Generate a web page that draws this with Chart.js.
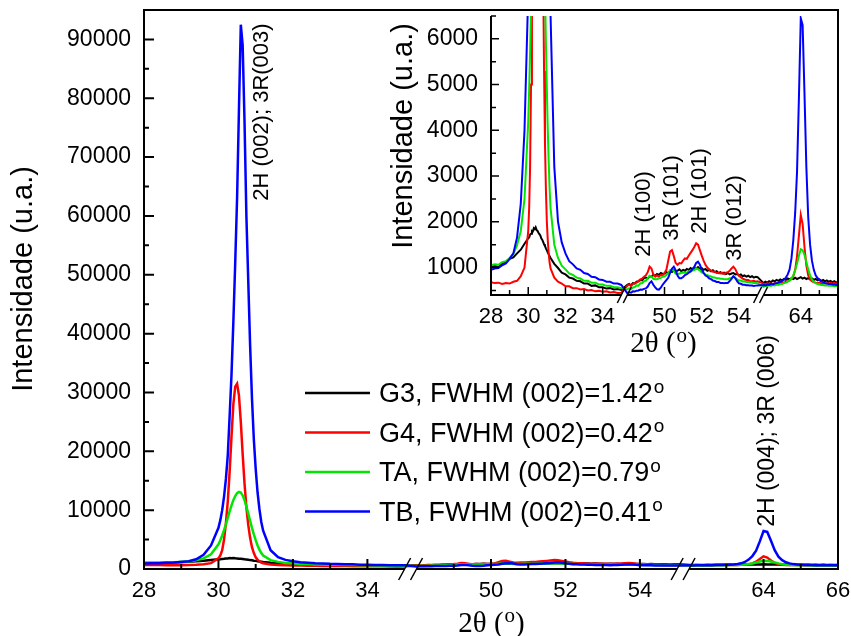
<!DOCTYPE html>
<html>
<head>
<meta charset="utf-8">
<title>DRX - G3, G4, TA, TB</title>
<script src="https://cdn.jsdelivr.net/npm/chart.js@4.4.0/dist/chart.umd.min.js"></script>
<style>
  html, body { margin: 0; padding: 0; background: #fff; }
  #wrap { position: relative; width: 851px; height: 636px; }
  #mainChart { position: absolute; left: 0; top: 0; }
  #insetChart { position: absolute; left: 380px; top: 0; }
</style>
</head>
<body>
<div id="wrap">
  <canvas id="mainChart" width="851" height="636"></canvas>
  <canvas id="insetChart" width="471" height="370"></canvas>
</div>
<script>
// windows of 2theta shown on the broken x axis
const segments = [[28, 35], [48, 55], [62, 66]];
const GAP = 0.32; // width of each axis break, in degrees

// sampled 2theta positions (deg)
const twoTheta = [
  28.0, 28.2, 28.4, 28.6, 28.8, 29.0, 29.2, 29.4, 29.6, 29.8,
  30.0, 30.05, 30.1, 30.15, 30.2, 30.25, 30.3, 30.35, 30.4, 30.45,
  30.5, 30.55, 30.6, 30.65, 30.7, 30.75, 30.8, 30.85, 30.9, 30.95,
  31.0, 31.05, 31.1, 31.15, 31.2,
  31.4, 31.6, 31.8, 32.0, 32.2, 32.4, 32.6, 32.8, 33.0, 33.2,
  33.4, 33.6, 33.8, 34.0, 34.2, 34.4, 34.6, 34.8, 35.0,
  48.0, 48.1, 48.2, 48.3, 48.4, 48.5, 48.6, 48.7, 48.8, 48.9,
  49.0, 49.1, 49.2, 49.3, 49.4, 49.5, 49.6, 49.7, 49.8, 49.9,
  50.0, 50.1, 50.2, 50.3, 50.4, 50.5, 50.6, 50.7, 50.8, 50.9,
  51.0, 51.1, 51.2, 51.3, 51.4, 51.5, 51.6, 51.7, 51.8, 51.9,
  52.0, 52.1, 52.2, 52.3, 52.4, 52.5, 52.6, 52.7, 52.8, 52.9,
  53.0, 53.1, 53.2, 53.3, 53.4, 53.5, 53.6, 53.7, 53.8, 53.9,
  54.0, 54.1, 54.2, 54.3, 54.4, 54.5, 54.6, 54.7, 54.8, 54.9,
  55.0,
  62.0, 62.1, 62.2, 62.3, 62.4, 62.5, 62.6, 62.7, 62.8, 62.9,
  63.0, 63.1, 63.2, 63.3, 63.4, 63.5, 63.6, 63.7, 63.8, 63.9,
  64.0, 64.1, 64.2, 64.3, 64.4, 64.5, 64.6, 64.7, 64.8, 64.9,
  65.0, 65.1, 65.2, 65.3, 65.4, 65.5, 65.6, 65.7, 65.8, 65.9,
  66.0
];

// intensities (u.a.), same order as twoTheta
const g3 = [
  1000, 1040, 1010, 1080, 1110, 1190, 1220, 1310, 1390, 1520,
  1640, 1660, 1720, 1740, 1800, 1790, 1860, 1840, 1880, 1820,
  1800, 1760, 1730, 1700, 1640, 1610, 1560, 1510, 1470, 1420,
  1380, 1330, 1290, 1250, 1210,
  1080, 990, 890, 850, 780, 760, 710, 700, 650, 650,
  600, 610, 570, 570, 540, 550, 520, 530, 510,
  620, 640, 610, 660, 650, 690, 700, 730, 720, 770,
  780, 760, 810, 800, 840, 820, 860, 840, 880, 860,
  870, 900, 880, 920, 900, 940, 910, 930, 960, 920,
  950, 930, 970, 950, 990, 960, 1000, 980, 1010, 970,
  990, 950, 970, 930, 950, 920, 940, 900, 920, 880,
  900, 870, 890, 860, 880, 850, 870, 880, 850, 860,
  830, 850, 810, 830, 800, 820, 790, 810, 780, 800,
  790,
  660, 690, 670, 700, 680, 720, 700, 730, 710, 740,
  720, 750, 730, 760, 740, 770, 750, 780, 750, 770,
  790, 760, 780, 750, 770, 740, 760, 730, 750, 720,
  740, 710, 730, 700, 720, 690, 710, 680, 700, 670,
  690
];
const g4 = [
  680, 660, 670, 640, 660, 650, 690, 710, 810, 1000,
  1800, 2300, 3200, 5000, 7800, 11500, 16500, 22500, 28000, 31000,
  31500, 29500, 25000, 19500, 14500, 10500, 7500, 5300, 3700, 2700,
  2000, 1600, 1300, 1100, 980,
  780, 690, 650, 590, 590, 550, 550, 520, 530, 500,
  510, 480, 490, 470, 480, 455, 465, 445, 450,
  600, 630, 600, 640, 660, 670, 700, 740, 760, 800,
  830, 900, 1020, 980, 850, 800, 830, 800, 840, 830,
  880, 950, 1150, 1350, 1380, 1250, 1100, 1060, 1100, 1090,
  1150, 1200, 1190, 1260, 1320, 1380, 1450, 1530, 1500, 1380,
  1260, 1150, 1060, 1000, 960, 930, 910, 910, 880, 880,
  870, 890, 860, 890, 900, 930, 980, 1020, 970, 880,
  820, 790, 760, 740, 730, 730, 700, 700, 710, 690,
  700,
  650, 630, 660, 640, 650, 640, 660, 650, 670, 660,
  680, 670, 690, 700, 720, 750, 810, 950, 1250, 1700,
  2150, 1950, 1450, 1050, 830, 740, 700, 680, 670, 660,
  670, 650, 660, 650, 660, 650, 660, 650, 660, 650,
  660
];
const ta = [
  1050, 1070, 1060, 1120, 1140, 1210, 1290, 1490, 1800, 2500,
  4200, 4900, 5700, 6600, 7600, 8700, 9800, 10800, 11700, 12400,
  12900, 13100, 13000, 12500, 11700, 10600, 9400, 8200, 7000, 5900,
  4900, 4000, 3300, 2700, 2300,
  1500, 1210, 1040, 960, 870, 840, 780, 760, 710, 710,
  670, 670, 630, 630, 600, 600, 570, 570, 550,
  520, 550, 525, 565, 575, 610, 605, 655, 655, 700,
  715, 770, 820, 805, 755, 745, 745, 765, 775, 800,
  805, 840, 875, 945, 955, 925, 865, 865, 865, 885,
  885, 885, 895, 915, 915, 935, 945, 985, 965, 935,
  895, 875, 845, 835, 815, 805, 785, 785, 765, 765,
  755, 755, 745, 745, 745, 765, 775, 805, 775, 745,
  715, 715, 695, 695, 685, 685, 675, 675, 665, 665,
  660,
  580, 600, 590, 610, 600, 620, 610, 630, 620, 640,
  640, 660, 670, 690, 720, 760, 830, 940, 1090, 1260,
  1400, 1380, 1280, 1120, 960, 830, 740, 690, 660, 640,
  630, 620, 620, 610, 610, 600, 600, 600, 590, 600,
  590
];
const tb = [
  950, 980, 990, 1050, 1090, 1190, 1310, 1660, 2400, 4000,
  7000, 8300, 10000, 12300, 15300, 19300, 26000, 33000, 42000, 52000,
  63000, 78000, 92500, 89000, 76000, 60000, 49000, 38000, 29000, 22000,
  17000, 13000, 10200, 8000, 6500,
  3200, 2000, 1550, 1310, 1140, 1070, 980, 950, 880, 860,
  800, 790, 740, 730, 690, 690, 650, 650, 620,
  440, 460, 450, 480, 475, 495, 500, 520, 515, 535,
  545, 585, 660, 700, 625, 565, 525, 515, 560, 625,
  675, 725, 775, 885, 975, 1020, 945, 825, 765, 765,
  795, 835, 855, 885, 915, 965, 1015, 1100, 1130, 1065,
  955, 885, 825, 805, 765, 745, 715, 705, 685, 685,
  665, 665, 655, 665, 665, 705, 755, 810, 770, 705,
  655, 645, 625, 625, 615, 615, 605, 605, 595, 605,
  610,
  620, 610, 630, 620, 640, 630, 650, 660, 670, 690,
  710, 740, 780, 850, 960, 1200, 1600, 2200, 3100, 4700,
  6450, 6300, 4800, 3200, 2100, 1500, 1150, 950, 830, 770,
  730, 700, 680, 660, 650, 640, 640, 630, 630, 620,
  630
];

const seriesNames = ['G3', 'G4', 'TA', 'TB'];
const fwhm = ['1.42', '0.42', '0.79', '0.41'];
const seriesColors = ['#000000', '#ff0000', '#00e600', '#0000ff'];

// tick labels
const mainXTicks = [28, 30, 32, 34, 50, 52, 54, 64, 66];
const insetXTicks = [28, 30, 32, 34, 50, 52, 54, 64];
const xMinorTicks = [29, 31, 33, 49, 51, 53, 63, 65];
const mainYTicks = [0, 10000, 20000, 30000, 40000, 50000, 60000, 70000, 80000, 90000];
const mainYMinor = [5000, 15000, 25000, 35000, 45000, 55000, 65000, 75000, 85000, 95000];
const insetYTicks = [1000, 2000, 3000, 4000, 5000, 6000];
const insetYMinor = [500, 1500, 2500, 3500, 4500, 5500, 6500];

const SANS = "'Liberation Sans', Arial, Helvetica, sans-serif";
const SERIF = "'Liberation Serif', 'Times New Roman', serif";
const INSET_LEFT = 380;

// 2theta -> position on the compressed (broken) axis
function toAxis(t) {
  let off = 0;
  for (const [a, b] of segments) {
    if (t <= b) return off + (t - a);
    off += (b - a) + GAP;
  }
  return off;
}
function fromAxis(u) {
  let off = 0;
  for (const [a, b] of segments) {
    if (u <= off + (b - a) + 1e-6) return a + (u - off);
    off += (b - a) + GAP;
  }
  return u;
}
const axisMax = toAxis(66);

function makeDatasets(width) {
  return [g3, g4, ta, tb].map((vals, k) => ({
    label: seriesNames[k],
    data: twoTheta.map((t, i) => ({ x: toAxis(t), y: vals[i] })),
    borderColor: seriesColors[k],
    borderWidth: width,
    pointRadius: 0,
    tension: 0,
    fill: false,
    order: 3 - k
  }));
}

function vText(ctx, str, x, y, size) {
  ctx.save();
  ctx.translate(x, y);
  ctx.rotate(-Math.PI / 2);
  ctx.font = size + 'px ' + SANS;
  ctx.fillStyle = '#000';
  ctx.textAlign = 'center';
  ctx.textBaseline = 'middle';
  ctx.fillText(str, 0, 0);
  ctx.restore();
}

// text with superscript pieces, parts = [[text, isSup], ...]
function supLine(ctx, parts, x, y, size, family, align) {
  const supSize = Math.round(size * 0.72);
  const widths = parts.map(([s, sup]) => {
    ctx.font = (sup ? supSize : size) + 'px ' + family;
    return ctx.measureText(s).width;
  });
  const total = widths.reduce((a, b) => a + b, 0);
  let cx = align === 'center' ? x - total / 2 : x;
  ctx.fillStyle = '#000';
  ctx.textAlign = 'left';
  ctx.textBaseline = 'alphabetic';
  parts.forEach(([s, sup], i) => {
    ctx.font = (sup ? supSize : size) + 'px ' + family;
    ctx.fillText(s, cx + (sup ? 1 : 0), sup ? y - size * 0.34 : y);
    cx += widths[i] + (sup ? 1 : 0);
  });
}

// axis lines with breaks, inward ticks
const framePlugin = {
  id: 'frame',
  afterDatasetsDraw(chart, args, o) {
    const ctx = chart.ctx, area = chart.chartArea;
    const xs = chart.scales.x, ys = chart.scales.y;
    const h = o.lw / 2;
    ctx.save();
    ctx.strokeStyle = '#000';
    ctx.lineWidth = o.lw;
    ctx.beginPath();
    ctx.moveTo(area.left, area.top); ctx.lineTo(area.left, area.bottom + h);
    ctx.moveTo(area.right, area.top - (o.top ? h : 0)); ctx.lineTo(area.right, area.bottom + h);
    if (o.top) { ctx.moveTo(area.left - h, area.top); ctx.lineTo(area.right + h, area.top); }
    segments.forEach(([a, b], i) => {
      const x0 = i === 0 ? area.left - h : xs.getPixelForValue(toAxis(a));
      const x1 = i === segments.length - 1 ? area.right + h : xs.getPixelForValue(toAxis(b));
      ctx.moveTo(x0, area.bottom); ctx.lineTo(x1, area.bottom);
    });
    ctx.stroke();

    // break marks "//"
    ctx.lineWidth = 1.5;
    ctx.beginPath();
    const slash = x => { ctx.moveTo(x - o.bw, area.bottom + o.bh); ctx.lineTo(x + o.bw, area.bottom - o.bh); };
    segments.forEach(([a, b], i) => {
      if (i > 0) slash(xs.getPixelForValue(toAxis(a)));
      if (i < segments.length - 1) slash(xs.getPixelForValue(toAxis(b)));
    });
    ctx.stroke();

    ctx.lineWidth = o.tw;
    ctx.beginPath();
    const tickY = (v, len) => { const y = ys.getPixelForValue(v); ctx.moveTo(area.left, y); ctx.lineTo(area.left + len, y); };
    const tickX = (t, len) => { const x = xs.getPixelForValue(toAxis(t)); ctx.moveTo(x, area.bottom); ctx.lineTo(x, area.bottom - len); };
    o.yMajor.forEach(v => tickY(v, o.major));
    o.yMinor.forEach(v => tickY(v, o.minor));
    o.xMajor.forEach(t => tickX(t, o.major));
    o.xMinor.forEach(t => tickX(t, o.minor));
    ctx.stroke();
    ctx.restore();
  }
};

const mainText = {
  id: 'mainText',
  afterDraw(chart) {
    const ctx = chart.ctx;
    ctx.save();
    vText(ctx, '2H (002); 3R(003)', 262, 112, 22);
    vText(ctx, '2H (004); 3R (006)', 768, 431, 23);
    vText(ctx, 'Intensidade (u.a.)', 24, 279, 29);
    supLine(ctx, [['2θ (', false], ['o', true], [')', false]], 491, 632, 29, SERIF, 'center');
    seriesNames.forEach((name, k) => {
      const y = 393 + k * 39.5;
      ctx.strokeStyle = seriesColors[k];
      ctx.lineWidth = 2.5;
      ctx.beginPath(); ctx.moveTo(305, y); ctx.lineTo(370, y); ctx.stroke();
      supLine(ctx, [[name + ', FWHM (002)=' + fwhm[k], false], ['o', true]], 379, y + 9, 27, SANS, 'left');
    });
    ctx.restore();
  }
};

const insetText = {
  id: 'insetText',
  afterDraw(chart) {
    const ctx = chart.ctx;
    const L = INSET_LEFT;
    ctx.save();
    vText(ctx, '2H (100)', 644 - L, 214, 22);
    vText(ctx, '3R (101)', 672 - L, 198, 22);
    vText(ctx, '2H (101)', 700 - L, 191, 22);
    vText(ctx, '3R (012)', 735 - L, 218, 22);
    vText(ctx, 'Intensidade (u.a.)', 404 - L, 136, 29);
    supLine(ctx, [['2θ (', false], ['o', true], [')', false]], 663 - L, 352, 29, SERIF, 'center');
    ctx.restore();
  }
};

function xScale(ticksList, height) {
  return {
    type: 'linear', min: 0, max: axisMax,
    grid: { display: false, drawTicks: false }, border: { display: false },
    afterBuildTicks: s => { s.ticks = ticksList.map(t => ({ value: toAxis(t) })); },
    afterFit: s => { s.height = height; s.paddingLeft = 0; s.paddingRight = 0; },
    ticks: {
      autoSkip: false, maxRotation: 0, minRotation: 0, padding: 9, color: '#000',
      font: { family: SANS, size: 22 },
      callback: v => String(Math.round(fromAxis(v)))
    }
  };
}
function yScale(min, max, ticksList, width) {
  return {
    min: min, max: max,
    grid: { display: false, drawTicks: false }, border: { display: false },
    afterBuildTicks: s => { s.ticks = ticksList.map(v => ({ value: v })); },
    afterFit: s => { s.width = width; s.paddingTop = 0; s.paddingBottom = 0; },
    ticks: {
      padding: 13, color: '#000',
      font: { family: SANS, size: 23 },
      callback: v => String(v)
    }
  };
}

new Chart(document.getElementById('mainChart'), {
  type: 'line',
  data: { datasets: makeDatasets(2.5) },
  options: {
    responsive: false,
    animation: false,
    events: [],
    layout: { padding: { left: 0, top: 10, right: 13, bottom: 0 } },
    scales: {
      x: xScale(mainXTicks, 67),
      y: yScale(0, 95000, mainYTicks, 144)
    },
    plugins: {
      legend: { display: false },
      tooltip: { enabled: false },
      frame: {
        top: true, lw: 2, tw: 2, major: 10, minor: 5, bw: 6, bh: 11,
        yMajor: mainYTicks, yMinor: mainYMinor, xMajor: mainXTicks, xMinor: xMinorTicks
      }
    }
  },
  plugins: [framePlugin, mainText]
});

new Chart(document.getElementById('insetChart'), {
  type: 'line',
  data: { datasets: makeDatasets(2) },
  options: {
    responsive: false,
    animation: false,
    events: [],
    layout: { padding: { left: 0, top: 16, right: 13, bottom: 0 } },
    scales: {
      x: xScale(insetXTicks, 75),
      y: yScale(400, 6500, insetYTicks, 111)
    },
    plugins: {
      legend: { display: false },
      tooltip: { enabled: false },
      frame: {
        top: false, lw: 2, tw: 1.5, major: 8, minor: 5, bw: 4, bh: 8,
        yMajor: insetYTicks, yMinor: insetYMinor, xMajor: mainXTicks, xMinor: xMinorTicks
      }
    }
  },
  plugins: [framePlugin, insetText]
});
</script>
</body>
</html>
